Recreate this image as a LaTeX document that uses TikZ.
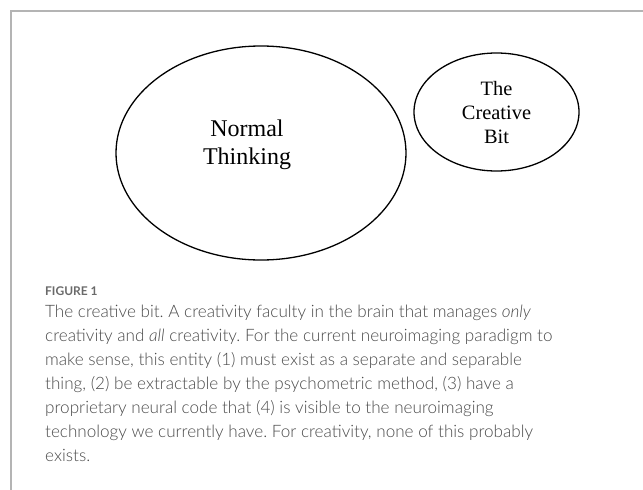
\documentclass[tikz,border=0pt]{standalone}
\usepackage{fontspec}
\setmainfont{Liberation Serif}
\newfontfamily\capfont{Lato}[UprightFont=* Light, ItalicFont=* Light Italic, BoldFont=* Bold]
\usetikzlibrary{shapes.geometric}
\definecolor{framegray}{HTML}{B4B4B4}
\definecolor{captext}{HTML}{4A4A4A}
\definecolor{caphead}{HTML}{6A6A6A}
\frenchspacing
\begin{document}
\begin{tikzpicture}[x=1pt,y=-1pt,
  bubble/.style={ellipse, draw=black, line width=1.3pt, inner sep=0pt, outer sep=0pt},
  bubbletext/.style={anchor=base, inner sep=0pt},
  capline/.style={anchor=base west, inner sep=0pt, text=captext, font=\capfont\fontsize{17.1}{24}\selectfont}
]
\useasboundingbox (0,0) rectangle (643,490);
% panel frame
\draw[framegray, line width=1.3pt] (11,490) -- (11,11) -- (643,11);

% the two bubbles
\node[bubble, minimum width=290pt, minimum height=214pt] (normal) at (261,153) {};
\node[bubble, minimum width=165pt, minimum height=118pt] (creative) at (496.5,112) {};

% bubble labels
\begin{scope}[font=\fontsize{24}{28}\selectfont]
\node[bubbletext] (n1) at (247,136) {Normal};
\node[bubbletext] (n2) at (247,164) {Thinking};
\end{scope}
\begin{scope}[font=\fontsize{20.4}{24}\selectfont]
\node[bubbletext] (c1) at (496.5,95) {The};
\node[bubbletext] (c2) at (496.5,119) {Creative};
\node[bubbletext] (c3) at (496.5,143) {Bit};
\end{scope}

% caption
\node[anchor=base west, inner sep=0pt, text=caphead, font=\capfont\bfseries\fontsize{12}{14}\selectfont] (fig) at (45,295) {FIGURE 1};
\foreach \t [count=\i] in {
  {The creative bit. A creativity faculty in the brain that manages \textit{only}},
  {creativity and \textit{all} creativity. For the current neuroimaging paradigm to},
  {make sense, this entity (1) must exist as a separate and separable},
  {thing, (2) be extractable by the psychometric method, (3) have a},
  {proprietary neural code that (4) is visible to the neuroimaging},
  {technology we currently have. For creativity, none of this probably},
  {exists.}}
  \node[capline] (cap\i) at (45,293+24*\i) {\t};
\end{tikzpicture}
\end{document}
